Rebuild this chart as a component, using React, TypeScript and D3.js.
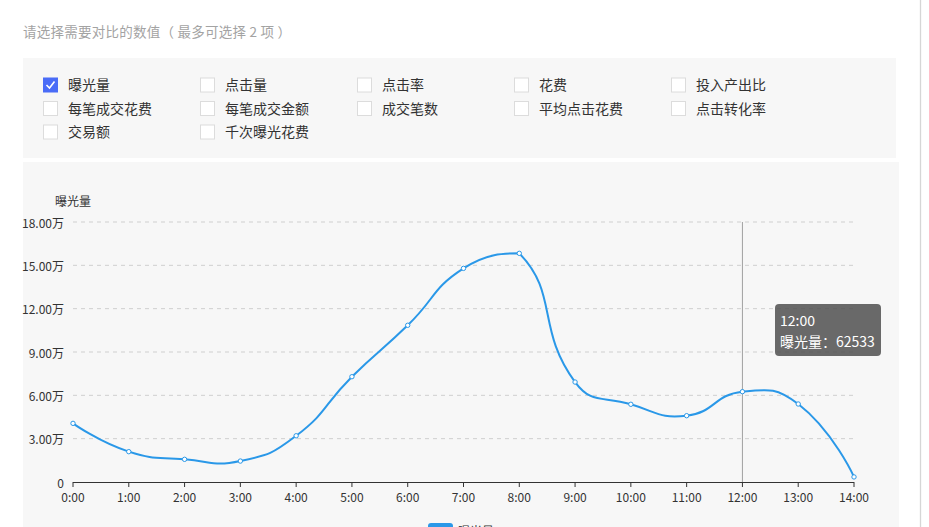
import React from "react";
import * as d3 from "d3";

const hours = ["0:00","1:00","2:00","3:00","4:00","5:00","6:00","7:00","8:00","9:00","10:00","11:00","12:00","13:00","14:00"];
const exposure = [40600, 21000, 15700, 14500, 32000, 72900, 108500, 147900, 158300, 69200, 53800, 45900, 62533, 54000, 3500];
const yTicks = [0, 30000, 60000, 90000, 120000, 150000, 180000];
const options = [
  ["曝光量", "点击量", "点击率", "花费", "投入产出比"],
  ["每笔成交花费", "每笔成交金额", "成交笔数", "平均点击花费", "点击转化率"],
  ["交易额", "千次曝光花费"],
];
const checked = ["曝光量"];
const seriesName = "曝光量";
const tipIndex = 12;
const title = "请选择需要对比的数值（ 最多可选择 2 项 ）";

const FONT = "'Noto Sans CJK SC', 'Microsoft YaHei', sans-serif";
const BLUE = "#2a98e8";

function smoothPath(pts: [number, number][], smooth = 0.5): string {
  const xs = pts.map((d) => d[0]), ys = pts.map((d) => d[1]);
  const minX = Math.min(...xs), maxX = Math.max(...xs);
  const minY = Math.min(...ys), maxY = Math.max(...ys);
  const clamp = (c: [number, number]): [number, number] => [
    Math.max(minX, Math.min(maxX, c[0])),
    Math.max(minY, Math.min(maxY, c[1])),
  ];
  const p = d3.path();
  p.moveTo(pts[0][0], pts[0][1]);
  let cp0: [number, number] = [pts[0][0], pts[0][1]];
  for (let i = 1; i < pts.length; i++) {
    const [x, y] = pts[i];
    let cp1: [number, number];
    let next: [number, number] = [x, y];
    if (i < pts.length - 1) {
      const [px, py] = pts[i - 1];
      const [nx, ny] = pts[i + 1];
      const vx = nx - px, vy = ny - py;
      const l0 = Math.hypot(x - px, y - py);
      const l1 = Math.hypot(nx - x, ny - y);
      const r = l1 / (l0 + l1);
      cp1 = clamp([x - vx * smooth * (1 - r), y - vy * smooth * (1 - r)]);
      next = clamp([x + vx * smooth * r, y + vy * smooth * r]);
    } else {
      cp1 = [x, y];
    }
    p.bezierCurveTo(cp0[0], cp0[1], cp1[0], cp1[1], x, y);
    cp0 = next;
  }
  return p.toString();
}

export default function App() {
  const W = 929, H = 527;
  const x = d3.scalePoint<string>().domain(hours).range([73, 854]);
  const y = d3.scaleLinear().domain([0, 180000]).range([482, 222]);
  const pts: [number, number][] = exposure.map((v, i) => [x(hours[i])!, y(v)]);
  const fmt = (v: number) => (v === 0 ? "0" : (v / 10000).toFixed(2) + "万");
  const colX = [43, 200, 357, 514, 671];
  const rowY = [85, 108.5, 132];
  const tx = x(hours[tipIndex])!;

  return (
    <svg width={W} height={H} style={{ position: "absolute", left: 0, top: 0, background: "#fff" }} fontFamily={FONT}>
      <rect x={0} y={0} width={W} height={H} fill="#fff" />
      <text x={23} y={31} dominantBaseline="central" fontSize={13.5} fill="#a3a3a3" textLength={268} lengthAdjust="spacing">{title}</text>
      <rect x={23} y={58} width={873} height={100} fill="#f7f7f7" />
      {options.map((row, ri) =>
        row.map((label, ci) => {
          const isOn = checked.includes(label);
          const bx = colX[ci], by = rowY[ri] - 7.5;
          return (
            <g key={label}>
              {isOn ? (
                <g>
                  <rect x={bx} y={by} width={15} height={15} fill="#4a6cf7" />
                  <path d={`M${bx + 3.5},${by + 7.5} L${bx + 6.5},${by + 10.5} L${bx + 11.5},${by + 4}`} fill="none" stroke="#fff" strokeWidth={1.6} />
                </g>
              ) : (
                <rect x={bx + 0.5} y={by + 0.5} width={14} height={14} fill="#fff" stroke="#dcdcdc" />
              )}
              <text x={bx + 25} y={rowY[ri] - 1} dominantBaseline="central" fontSize={14} fill="#333">{label}</text>
            </g>
          );
        })
      )}
      <rect x={23} y={162} width={876} height={H - 162} fill="#f7f7f7" />
      <line x1={920.5} y1={0} x2={920.5} y2={H} stroke="#d6d6d6" strokeWidth={1.3} />
      <text x={73} y={200} textAnchor="middle" dominantBaseline="central" fontSize={12} fill="#333">{seriesName}</text>
      {yTicks.map((t) => (
        <g key={t}>
          {t > 0 && (
            <line x1={73} x2={854} y1={y(t)} y2={y(t)} stroke="#cfcfcf" strokeDasharray="4,4" />
          )}
          <text x={64} y={y(t)} textAnchor="end" dominantBaseline="central" fontSize={12} fill="#333">{fmt(t)}</text>
        </g>
      ))}
      <line x1={tx} x2={tx} y1={222} y2={482} stroke="#a0a0a0" strokeWidth={1} />
      <line x1={73} x2={854} y1={482.5} y2={482.5} stroke="#333" />
      {hours.map((h) => (
        <g key={h}>
          <line x1={x(h)} x2={x(h)} y1={482} y2={487} stroke="#333" />
          <text x={x(h)} y={496} textAnchor="middle" dominantBaseline="central" fontSize={12} fill="#333">{h}</text>
        </g>
      ))}
      <path d={smoothPath(pts)} fill="none" stroke={BLUE} strokeWidth={2} />
      {pts.map(([px, py], i) => (
        <circle key={i} cx={px} cy={py} r={2.2} fill="#fff" stroke={BLUE} strokeWidth={1} />
      ))}
      <rect x={775} y={304} width={106} height={52} rx={4} fill="rgba(80,80,80,0.85)" />
      <text x={780} y={320} dominantBaseline="central" fontSize={14} fill="#fff">{hours[tipIndex]}</text>
      <text x={780} y={341} dominantBaseline="central" fontSize={14} fill="#fff">{`${seriesName}：${exposure[tipIndex]}`}</text>
      <rect x={428} y={523} width={25} height={14} rx={3} fill={BLUE} />
      <text x={458} y={530} dominantBaseline="central" fontSize={12} fill="#333">{seriesName}</text>
    </svg>
  );
}
